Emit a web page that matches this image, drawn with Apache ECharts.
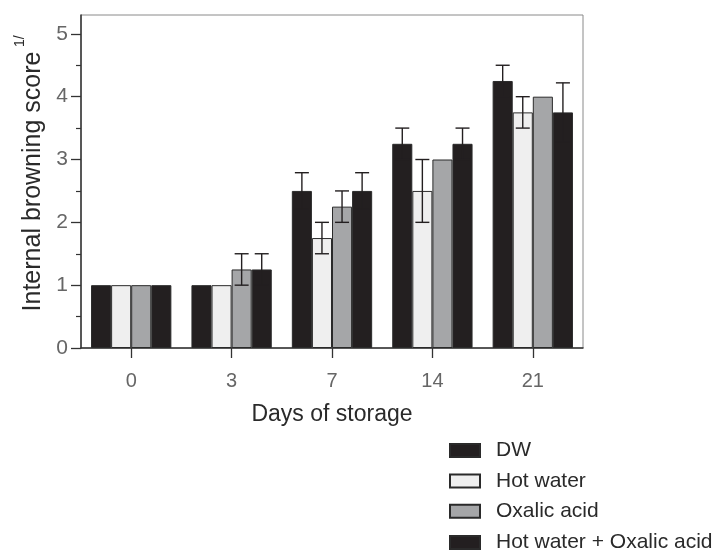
<!DOCTYPE html>
<html>
<head>
<meta charset="utf-8">
<script src="https://cdn.jsdelivr.net/npm/echarts@6/dist/echarts.min.js"></script>
<style>html,body{margin:0;padding:0;background:#fff;}#c{width:724px;height:552px;}</style>
</head>
<body>
<div id="c"></div>
<script>
var categories = ['0', '3', '7', '14', '21'];
var seriesNames = ['DW', 'Hot water', 'Oxalic acid', 'Hot water + Oxalic acid'];
var dwValues = [1, 1, 2.5, 3.25, 4.25];
var hotWaterValues = [1, 1, 1.75, 2.5, 3.75];
var oxalicValues = [1, 1.25, 2.25, 3.0, 4.0];
var hwOxalicValues = [1, 1.25, 2.5, 3.25, 3.75];
var dwErr = [0, 0, 0.29, 0.25, 0.25];
var hotWaterErr = [0, 0, 0.25, 0.5, 0.25];
var oxalicErr = [0, 0.25, 0.25, 0, 0];
var hwOxalicErr = [0, 0.25, 0.29, 0.25, 0.47];
var yTicks = [0, 1, 2, 3, 4, 5];
var yMinorTicks = [0.5, 1.5, 2.5, 3.5, 4.5];

var values = [dwValues, hotWaterValues, oxalicValues, hwOxalicValues];
var errs = [dwErr, hotWaterErr, oxalicErr, hwOxalicErr];
var fills = ['#231f20', '#efefef', '#a5a6a8', '#231f20'];
var FONT = 'Liberation Sans';
var CAT_GAP = 0.2;

var series = [];
values.forEach(function (vals, s) {
  series.push({
    name: seriesNames[s],
    type: 'bar',
    data: vals,
    barGap: '0%',
    barCategoryGap: '20%',
    itemStyle: { color: fills[s], borderColor: '#2a2a2a', borderWidth: 1 },
    emphasis: { disabled: true },
    z: 2
  });
});
errs.forEach(function (ev, s) {
  series.push({
    type: 'custom',
    z: 5,
    silent: true,
    data: ev.map(function (e, i) { return [i, values[s][i], e]; }),
    renderItem: function (params, api) {
      var idx = api.value(0), v = api.value(1), e = api.value(2);
      if (!e) return null;
      var c = api.coord([idx, v]);
      var bandW = api.size([1, 0])[0];
      var barW = bandW * (1 - CAT_GAP) / 4;
      var x = c[0] + (s - 1.5) * barW;
      var top = api.coord([idx, v + e])[1];
      var bot = api.coord([idx, v - e])[1];
      var hw = 7;
      var st = { stroke: '#231f20', lineWidth: 1.4 };
      return {
        type: 'group',
        children: [
          { type: 'line', shape: { x1: x, y1: top, x2: x, y2: bot }, style: st },
          { type: 'line', shape: { x1: x - hw, y1: top, x2: x + hw, y2: top }, style: st },
          { type: 'line', shape: { x1: x - hw, y1: bot, x2: x + hw, y2: bot }, style: st }
        ]
      };
    }
  });
});

function makeLegend(names, top) {
  return {
    orient: 'vertical',
    left: 449,
    top: top,
    padding: 0,
    itemWidth: 30,
    itemHeight: 13,
    itemGap: 9.4,
    icon: 'rect',
    selectedMode: false,
    data: names,
    textStyle: { fontFamily: FONT, fontSize: 21, color: '#2a2a2a', padding: [0, 0, 0, 11] }
  };
}

var chart = echarts.init(document.getElementById('c'), null, { renderer: 'canvas' });
chart.setOption({
  animation: false,
  backgroundColor: '#fff',
  textStyle: { fontFamily: FONT },
  grid: { left: 81, right: 141, top: 15, bottom: 204, show: true, borderColor: '#8a8a8a', borderWidth: 1, backgroundColor: 'transparent' },
  legend: [makeLegend(seriesNames.slice(0, 3), 440), makeLegend(seriesNames.slice(3), 532)],
  xAxis: {
    type: 'category',
    data: categories,
    name: 'Days of storage',
    nameLocation: 'middle',
    nameGap: 55,
    nameTextStyle: { fontFamily: FONT, fontSize: 23, color: '#2a2a2a' },
    axisLine: { lineStyle: { color: '#333', width: 1.5 } },
    axisTick: { show: true, alignWithLabel: true, length: 10, lineStyle: { color: '#333', width: 1.3 } },
    axisLabel: { fontFamily: FONT, fontSize: 20, color: '#666', margin: 23 },
    splitLine: { show: false }
  },
  yAxis: [{
    type: 'value',
    min: 0,
    max: 5.3,
    name: 'Internal browning score',
    nameLocation: 'middle',
    nameGap: 31,
    nameTextStyle: { fontFamily: FONT, fontSize: 25, color: '#2a2a2a' },
    axisLine: { show: true, lineStyle: { color: '#333', width: 1.5 } },
    axisTick: { show: true, length: 10, customValues: yTicks, lineStyle: { color: '#333', width: 1.3 } },
    axisLabel: { fontFamily: FONT, fontSize: 21, color: '#666', margin: 13, customValues: yTicks },
    splitLine: { show: false }
  }, {
    type: 'value',
    min: 0,
    max: 5.3,
    position: 'left',
    axisLine: { show: false },
    axisTick: { show: true, length: 5, customValues: yMinorTicks, lineStyle: { color: '#333', width: 1.2 } },
    axisLabel: { show: false },
    splitLine: { show: false }
  }],
  graphic: [{
    type: 'text',
    x: 13,
    y: 47,
    rotation: Math.PI / 2,
    style: { text: '1/', fontFamily: FONT, fontSize: 14, fill: '#2a2a2a' }
  }],
  series: series
});
</script>
</body>
</html>
